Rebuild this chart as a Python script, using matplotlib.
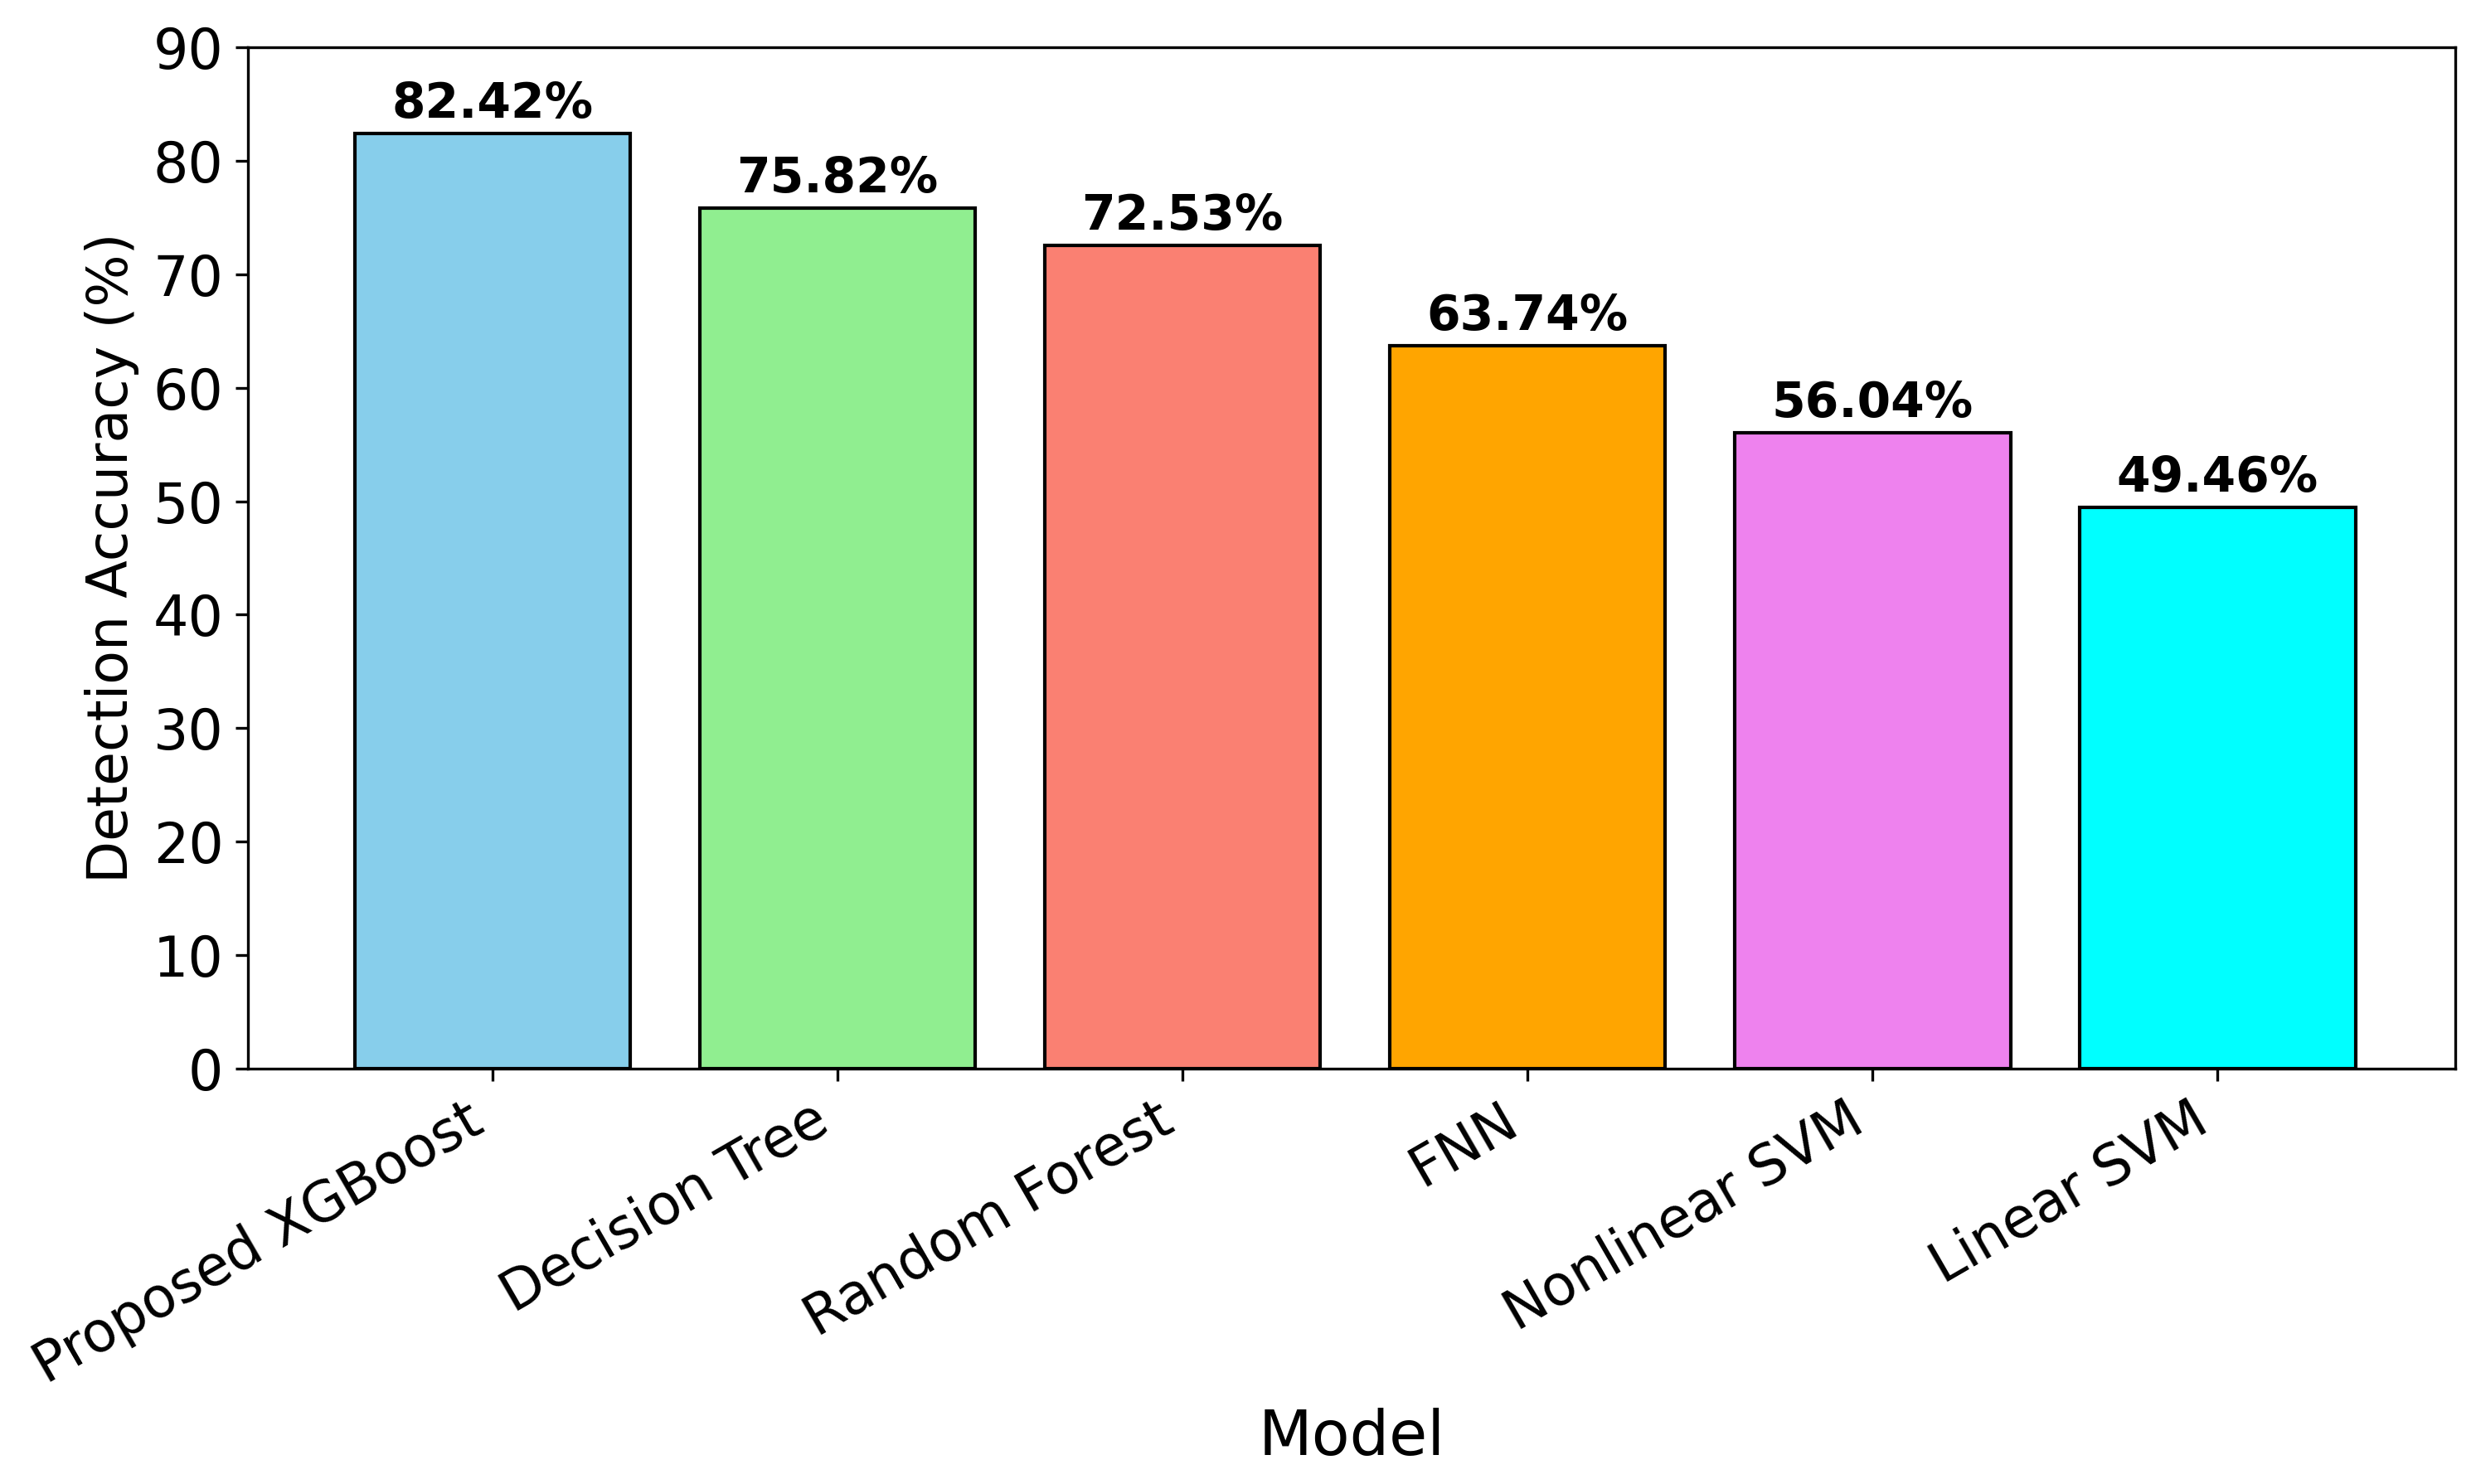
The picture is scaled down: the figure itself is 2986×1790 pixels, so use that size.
import matplotlib
matplotlib.use("Agg")
import matplotlib.pyplot as plt

# model accuracies
models = ["Proposed XGBoost", "Decision Tree", "Random Forest", "FNN", "Nonlinear SVM", "Linear SVM"]
accuracy = [82.42, 75.82, 72.53, 63.74, 56.04, 49.46]
colors = ["skyblue", "lightgreen", "salmon", "orange", "violet", "cyan"]

fig = plt.figure(figsize=(2986 / 300, 1790 / 300), dpi=300)
ax = fig.add_axes([0.100, 0.280, 0.8917, 0.688])

bars = ax.bar(models, accuracy, color=colors, edgecolor="black")

# value on top of each bar
for b, v in zip(bars, accuracy):
    ax.text(b.get_x() + b.get_width() / 2, v + 0.5, f"{v:.2f}%",
            ha="center", va="bottom", fontsize=14, fontweight="bold")

ax.set_xlim(-0.71, 5.69)
ax.set_ylim(0, 90)
ax.set_xlabel("Model", fontsize=18)
ax.set_ylabel("Detection Accuracy (%)", fontsize=16)
ax.tick_params(axis="both", labelsize=16)
plt.setp(ax.get_xticklabels(), rotation=30, ha="right")

fig.savefig("out.png", dpi=300)
